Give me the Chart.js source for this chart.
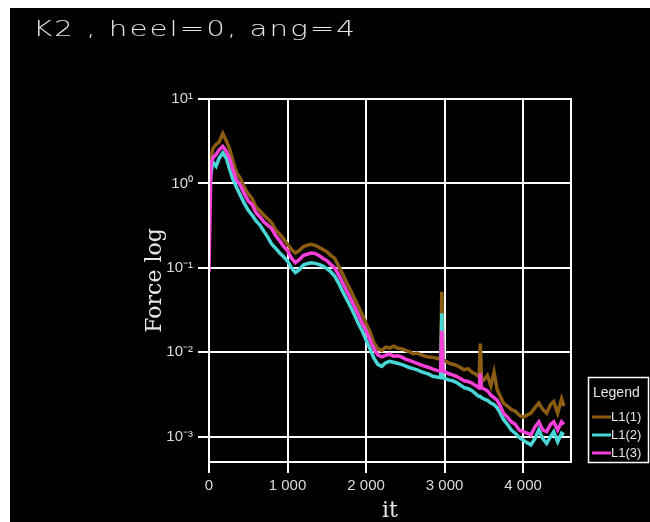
<!DOCTYPE html>
<html>
<head>
<meta charset="utf-8">
<script src="https://cdn.jsdelivr.net/npm/chart.js@4.4.1/dist/chart.umd.min.js"></script>
<style>
  body { margin: 0; background: #fff; overflow: hidden; }
  #wrap { position: absolute; left: 10px; top: 8px; width: 640px; height: 514px; background: #000; }
</style>
</head>
<body>
<div id="wrap"><canvas id="chart" width="640" height="514"></canvas></div>
<script>
const chartTitle = "K2 , heel=0, ang=4";
const seriesNames = ["L1(1)", "L1(2)", "L1(3)"];
const xTicks = [0, 1000, 2000, 3000, 4000];
const yTicks = [1e-3, 1e-2, 1e-1, 1, 10];

const iters = [0, 25, 50, 90, 130, 175, 220, 260, 300, 350, 400, 450, 500, 550, 600, 650, 700, 750, 800, 850,
  900, 950, 1000, 1050, 1100, 1150, 1200, 1250, 1300, 1350, 1400, 1450, 1500, 1550, 1600, 1650, 1700, 1750, 1800, 1850,
  1900, 1950, 2000, 2050, 2100, 2150, 2200, 2250, 2300, 2350, 2400, 2450, 2500, 2550, 2600, 2650, 2700, 2750, 2800, 2850,
  2900, 2950, 2965, 2980, 3000, 3050, 3100, 3150, 3200, 3250, 3300, 3350, 3400, 3440, 3455, 3470, 3500, 3545, 3590, 3630,
  3670, 3710, 3750, 3800, 3850, 3900, 3950, 4000, 4050, 4100, 4150, 4200, 4250, 4300, 4350, 4390, 4440, 4490, 4520];

// L1(1) brown
const l1a = [1.8, 2.0, 2.6, 2.9, 3.1, 3.9, 3.2, 2.6, 1.9, 1.35, 1.15, 0.9, 0.75, 0.66, 0.52, 0.47, 0.42, 0.38, 0.34, 0.28,
  0.25, 0.22, 0.19, 0.165, 0.15, 0.16, 0.178, 0.185, 0.19, 0.185, 0.175, 0.165, 0.155, 0.14, 0.13, 0.105, 0.085, 0.068, 0.055, 0.044,
  0.035, 0.028, 0.022, 0.0175, 0.013, 0.011, 0.0105, 0.0115, 0.0112, 0.0118, 0.0112, 0.011, 0.0105, 0.0102, 0.0096, 0.0098, 0.0093, 0.009, 0.0088, 0.0087,
  0.0085, 0.0083, 0.052, 0.0084, 0.008, 0.0075, 0.0072, 0.007, 0.0066, 0.0062, 0.0064, 0.0058, 0.0055, 0.0051, 0.0127, 0.005, 0.0047, 0.0053, 0.004, 0.0058,
  0.0036, 0.003, 0.0025, 0.0023, 0.0021, 0.002, 0.0018, 0.0017, 0.0018, 0.0019, 0.0022, 0.0025, 0.0021, 0.0019, 0.0024, 0.0026, 0.0019, 0.0028, 0.0023];

// L1(2) cyan
const l1b = [0.75, 1.3, 1.8, 1.6, 2.0, 2.3, 2.0, 1.5, 1.15, 0.9, 0.72, 0.58, 0.48, 0.42, 0.36, 0.32, 0.27, 0.23, 0.19, 0.17,
  0.15, 0.135, 0.12, 0.1, 0.088, 0.095, 0.108, 0.112, 0.115, 0.113, 0.11, 0.105, 0.098, 0.09, 0.08, 0.066, 0.053, 0.043, 0.035, 0.028,
  0.022, 0.018, 0.014, 0.011, 0.0085, 0.0072, 0.0068, 0.0075, 0.0078, 0.0076, 0.0074, 0.0072, 0.0069, 0.0066, 0.0064, 0.0062, 0.0059, 0.0057, 0.0055, 0.0052,
  0.0051, 0.005, 0.029, 0.005, 0.0049, 0.0047, 0.0046, 0.0044, 0.0041, 0.0038, 0.0037, 0.0035, 0.0032, 0.003, 0.003, 0.0029, 0.0028, 0.0027, 0.0025, 0.0024,
  0.0022, 0.0019, 0.0016, 0.0014, 0.0012, 0.0011, 0.00098, 0.00091, 0.00085, 0.0008, 0.00095, 0.0012, 0.00095, 0.00083, 0.001, 0.00114, 0.00087, 0.0011, 0.00105];

// L1(3) magenta
const l1c = [0.09, 1.7, 2.0, 2.2, 2.5, 2.75, 2.4, 2.0, 1.5, 1.1, 0.95, 0.75, 0.62, 0.56, 0.45, 0.4, 0.35, 0.32, 0.29, 0.24,
  0.21, 0.18, 0.16, 0.13, 0.115, 0.125, 0.14, 0.145, 0.15, 0.148, 0.14, 0.13, 0.122, 0.11, 0.1, 0.083, 0.067, 0.054, 0.044, 0.035,
  0.028, 0.022, 0.018, 0.014, 0.011, 0.0093, 0.0088, 0.0092, 0.0095, 0.009, 0.0091, 0.0088, 0.0083, 0.008, 0.0077, 0.0074, 0.0071, 0.0068, 0.0066, 0.0063,
  0.0061, 0.006, 0.018, 0.006, 0.0059, 0.0056, 0.0054, 0.0052, 0.0049, 0.0046, 0.0045, 0.0043, 0.004, 0.0038, 0.0056, 0.0038, 0.0037, 0.0035, 0.0031, 0.0029,
  0.0027, 0.0023, 0.0019, 0.0017, 0.0015, 0.0014, 0.0012, 0.00115, 0.0011, 0.00105, 0.0013, 0.0015, 0.0012, 0.00115, 0.0014, 0.0015, 0.0012, 0.0015, 0.0014];

const colors = ["#8a5d12", "#48d6d6", "#f640da"];

function toPoints(arr) {
  return iters.map((x, i) => ({ x: x, y: arr[i] }));
}

const supMap = { "-": "\u207B", "0": "\u2070", "1": "\u00B9", "2": "\u00B2", "3": "\u00B3" };
function supLabel(v) {
  const e = String(Math.round(Math.log10(v)));
  return "10" + e.split("").map(c => supMap[c]).join("");
}

// box around the plot
const frame = {
  id: "frame",
  afterDatasetsDraw(chart) {
    const { ctx, chartArea: a } = chart;
    ctx.save();
    ctx.strokeStyle = "#fff";
    ctx.lineWidth = 2;
    ctx.strokeRect(a.left, a.top, a.right - a.left, a.bottom - a.top);
    ctx.restore();
  }
};

// title text top left, stretched wide
const topTitle = {
  id: "topTitle",
  afterDraw(chart) {
    const ctx = chart.ctx;
    ctx.save();
    ctx.font = "200 22px 'DejaVu Sans'";
    ctx.fillStyle = "#e6e6e6";
    ctx.textBaseline = "alphabetic";
    const chars = chartTitle.split("");
    const gap = 2;
    const natural = ctx.measureText(chartTitle).width;
    const sx = (322 - gap * (chars.length - 1)) / natural;
    let x = 23;
    chars.forEach(c => {
      ctx.save();
      ctx.translate(x, 28);
      ctx.scale(sx, 1);
      ctx.fillText(c, 0, 0);
      ctx.restore();
      x += ctx.measureText(c).width * sx + gap;
    });
    ctx.restore();
  }
};

// legend box at the lower right
const sideLegend = {
  id: "sideLegend",
  afterDraw(chart) {
    const ctx = chart.ctx;
    ctx.save();
    ctx.strokeStyle = "#fff";
    ctx.lineWidth = 1.5;
    ctx.strokeRect(578.5, 369.5, 60, 85);
    ctx.fillStyle = "#e6e6e6";
    ctx.font = "14px 'Liberation Sans'";
    ctx.textBaseline = "middle";
    ctx.fillText("Legend", 583, 385);
    ctx.font = "13px 'Liberation Sans'";
    chart.data.datasets.forEach((ds, i) => {
      const y = 409 + i * 18;
      ctx.strokeStyle = ds.borderColor;
      ctx.lineWidth = 3;
      ctx.beginPath();
      ctx.moveTo(582, y);
      ctx.lineTo(601, y);
      ctx.stroke();
      ctx.fillText(ds.label, 601, y);
    });
    ctx.restore();
  }
};

new Chart(document.getElementById("chart"), {
  type: "line",
  data: {
    datasets: [
      { label: seriesNames[0], data: toPoints(l1a), borderColor: colors[0], order: 2 },
      { label: seriesNames[1], data: toPoints(l1b), borderColor: colors[1], order: 1 },
      { label: seriesNames[2], data: toPoints(l1c), borderColor: colors[2], order: 0 }
    ]
  },
  options: {
    responsive: false,
    animation: false,
    layout: { padding: { left: 134, right: 79, top: 91, bottom: 0 } },
    elements: {
      line: { borderWidth: 3.5, tension: 0 },
      point: { radius: 0 }
    },
    plugins: {
      legend: { display: false },
      tooltip: { enabled: false }
    },
    scales: {
      x: {
        type: "linear",
        min: 0,
        max: 4610,
        afterBuildTicks: s => { s.ticks = xTicks.map(v => ({ value: v })); },
        afterFit: s => { s.height = 60; },
        grid: { color: "#fff", lineWidth: 2, tickLength: 11 },
        border: { color: "#fff", width: 2 },
        ticks: {
          color: "#dcdcdc",
          padding: 4,
          maxRotation: 0,
          font: { family: "Liberation Sans", size: 15 },
          callback: v => String(v).replace(/\B(?=(\d{3})+$)/g, " ")
        },
        title: {
          display: true,
          text: "it",
          color: "#e6e6e6",
          padding: 0,
          font: { family: "DejaVu Serif", size: 22, lineHeight: 1 }
        }
      },
      y: {
        type: "logarithmic",
        min: Math.pow(10, -3.3),
        max: 10,
        afterBuildTicks: s => { s.ticks = yTicks.map(v => ({ value: v })); },
        afterFit: s => { s.width = 65; },
        grid: { color: "#fff", lineWidth: 2, tickLength: 11 },
        border: { color: "#fff", width: 2 },
        ticks: {
          color: "#dcdcdc",
          padding: 5,
          font: { family: "Liberation Sans", size: 15 },
          callback: v => supLabel(v)
        },
        title: {
          display: true,
          text: "Force log",
          color: "#e6e6e6",
          padding: 0,
          font: { family: "DejaVu Serif", size: 22, lineHeight: 1 }
        }
      }
    }
  },
  plugins: [frame, topTitle, sideLegend]
});
</script>
</body>
</html>
